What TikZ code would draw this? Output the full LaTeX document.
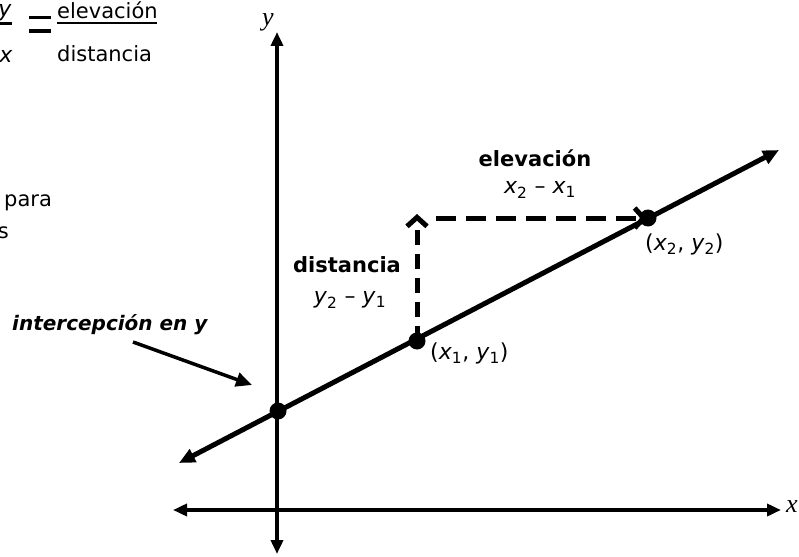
\documentclass[tikz,border=0pt]{standalone}
\usepackage{fontspec}
\setmainfont{DejaVu Sans}
\newfontfamily\axisfont{Liberation Serif}
\usetikzlibrary{arrows.meta}
\begin{document}
\begin{tikzpicture}[x=1pt,y=-1pt,
  lbl/.style={inner sep=0pt, font=\fontsize{21}{24}\selectfont},
  mlbl/.style={inner sep=0pt, font=\fontsize{22}{25}\selectfont},
  blbl/.style={inner sep=0pt, font=\fontsize{21}{24}\selectfont\bfseries},
  axlbl/.style={inner sep=0pt, font=\fontsize{26}{28}\selectfont\axisfont\itshape},
  axisline/.style={line width=4pt, {Triangle[length=14pt,width=12pt]}-{Triangle[length=14pt,width=12pt]}},
  graphline/.style={line width=5pt, {Triangle[length=16pt,width=14pt]}-{Triangle[length=16pt,width=14pt]}},
  dashline/.style={line width=5pt, dash pattern=on 15pt off 9pt, -{Straight Barb[length=9pt,width=20pt]}},
  dot/.style={circle, fill=black, inner sep=0pt, minimum size=17pt},
  pointer/.style={line width=3.5pt, -{Triangle[length=16pt,width=14pt]}},
  bar/.style={line width=2.2pt}
]
\useasboundingbox (0,0) rectangle (799,556);

% top-left formula (cut off at left edge)
\node[mlbl, font=\fontsize{22}{25}\selectfont\itshape] (fy) at (5,13) {y};
\node[mlbl, font=\fontsize{22}{25}\selectfont\itshape] (fx) at (6,56) {x};
\coordinate (fyb1) at (-2,23.5);
\coordinate (fyb2) at (12,23.5);
\draw[bar] (fyb1) -- (fyb2);
\coordinate (eqa1) at (29,17.5);
\coordinate (eqa2) at (51,17.5);
\coordinate (eqb1) at (29,31);
\coordinate (eqb2) at (51,31);
\draw[line width=3.2pt] (eqa1) -- (eqa2);
\draw[line width=3.2pt] (eqb1) -- (eqb2);
\node[lbl, anchor=base west] (fel) at (57,19) {elevación};
\coordinate (feb1) at (57,23);
\coordinate (feb2) at (157,23);
\draw[bar] (feb1) -- (feb2);
\node[lbl, anchor=base west] (fdi) at (57,62) {distancia};

% cut-off text at left edge
\node[lbl, anchor=base west] (para) at (4,206) {para};
\node[lbl, anchor=base east] (tails) at (9,238) {s};

% axes
\coordinate (yt) at (277,32);
\coordinate (yb) at (277,554);
\coordinate (xl) at (173,510);
\coordinate (xr) at (781,510);
\draw[axisline] (yb) -- (yt);
\draw[axisline] (xl) -- (xr);
\node[axlbl] (ylab) at (268,22) {y};
\node[axlbl] (xlab) at (792,507) {x};

% the line
\coordinate (la) at (179,463);
\coordinate (lb) at (779,150);
\draw[graphline] (la) -- (lb);

% dashed rise/run
\coordinate (corner) at (417,214);
\coordinate (run) at (647,218);
\node[dot] (p0) at (278,411) {};
\node[dot] (p1) at (417,341) {};
\node[dot] (p2) at (648,218) {};
\draw[dashline] (p1.center) -- (corner);
\coordinate (runstart) at (436,218);
\draw[dashline, dash pattern=on 20pt off 10pt] (runstart) -- (run);

% labels
\node[blbl] (elev) at (535,158) {elevación};
\node[mlbl] (dx) at (540,190) {\textit{x}\textsubscript{2} – \textit{x}\textsubscript{1}};
\node[blbl] (dist) at (347,265) {distancia};
\node[mlbl] (dy) at (350,300) {\textit{y}\textsubscript{2} – \textit{y}\textsubscript{1}};
\node[mlbl, anchor=west] (l1) at (430,353) {(\textit{x}\textsubscript{1}, \textit{y}\textsubscript{1})};
\node[mlbl, anchor=west] (l2) at (645,244) {(\textit{x}\textsubscript{2}, \textit{y}\textsubscript{2})};
\node[blbl, font=\fontsize{20}{23}\selectfont\bfseries\itshape, anchor=west] (icpt) at (12,325) {intercepción en y};

\coordinate (ptrs) at (133,342);
\coordinate (ptre) at (252,385);
\draw[pointer] (ptrs) -- (ptre);
\end{tikzpicture}
\end{document}
